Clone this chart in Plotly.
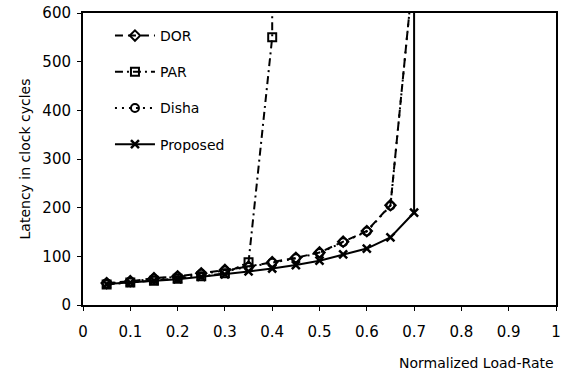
import plotly.graph_objects as go

load = [0.05, 0.1, 0.15, 0.2, 0.25, 0.3, 0.35, 0.4, 0.45, 0.5, 0.55, 0.6, 0.65, 0.7]

dor_x = load
dor_y = [45, 49, 55, 59, 65, 72, 79, 88, 97, 108, 130, 152, 205, 700]

par_x = [0.05, 0.1, 0.15, 0.2, 0.25, 0.3, 0.35, 0.4, 0.4]
par_y = [42, 46, 50, 54, 59, 65, 88, 550, 1000]

disha_x = load
disha_y = [44, 48, 54, 58, 64, 71, 78, 87, 96, 107, 129, 151, 204, 700]

prop_x = load + [0.7]
prop_y = [43, 46, 50, 53, 58, 63, 69, 75, 82, 91, 104, 116, 139, 190, 1000]

x_ticks = [0, 0.1, 0.2, 0.3, 0.4, 0.5, 0.6, 0.7, 0.8, 0.9, 1]
x_tick_text = ["0", "0.1", "0.2", "0.3", "0.4", "0.5", "0.6", "0.7", "0.8", "0.9", "1"]
y_ticks = [0, 100, 200, 300, 400, 500, 600]

FONT = "DejaVu Sans"

fig = go.Figure()
fig.add_trace(go.Scatter(x=dor_x, y=dor_y, name="DOR", mode="lines+markers",
                         line=dict(color="black", width=2, dash="8px,5px"),
                         marker=dict(symbol="diamond-open", size=8, color="black", line=dict(width=2)),
                         legendgroup="a"))
fig.add_trace(go.Scatter(x=par_x, y=par_y, name="PAR", mode="lines+markers",
                         line=dict(color="black", width=2, dash="8px,4px,2px,4px"),
                         marker=dict(symbol="square-open", size=8, color="black", line=dict(width=2)),
                         legendgroup="b"))
fig.add_trace(go.Scatter(x=disha_x, y=disha_y, name="Disha", mode="lines+markers",
                         line=dict(color="black", width=2, dash="2px,5px"),
                         marker=dict(symbol="circle-open", size=8, color="black", line=dict(width=2)),
                         legendgroup="c"))
fig.add_trace(go.Scatter(x=prop_x, y=prop_y, name="Proposed", mode="lines+markers",
                         line=dict(color="black", width=2),
                         marker=dict(symbol="x-thin-open", size=8, color="black", line=dict(width=2.5, color="black")),
                         legendgroup="d"))

fig.update_layout(
    width=568, height=384,
    margin=dict(l=83, r=12, t=13, b=79),
    paper_bgcolor="white", plot_bgcolor="white",
    font=dict(family=FONT, size=14, color="black"),
    showlegend=True,
    legend=dict(x=0.057, y=0.976, xanchor="left", yanchor="top",
                bgcolor="rgba(0,0,0,0)", font=dict(size=14, family=FONT),
                tracegroupgap=15, itemwidth=40),
)
fig.update_xaxes(range=[0, 1], tickvals=x_ticks, ticktext=x_tick_text, automargin=False,
                 showgrid=False, zeroline=False, showline=True, linecolor="black", linewidth=2,
                 mirror=True, ticks="outside", ticklen=4, tickwidth=1, tickcolor="black",
                 ticklabelstandoff=8,
                 tickfont=dict(size=15, family=FONT))
fig.update_yaxes(range=[0, 600], tickvals=y_ticks, automargin=False,
                 showgrid=False, zeroline=False, showline=True, linecolor="black", linewidth=2,
                 mirror=True, ticks="outside", ticklen=4, tickwidth=1, tickcolor="black",
                 ticklabelstandoff=3,
                 tickfont=dict(size=15, family=FONT),
                 title=dict(text="Latency in clock cycles", font=dict(size=14, family=FONT), standoff=8))
fig.add_annotation(text="Normalized Load-Rate", xref="paper", yref="paper",
                   x=1.0, y=-0.2, xanchor="right", yanchor="middle", showarrow=False,
                   font=dict(size=14, family=FONT))

fig.write_html("out.html", config={"displayModeBar": False})

with open("out.html", "r", encoding="utf-8") as f:
    html = f.read()
html = html.replace("<body>", '<body style="margin:0;padding:0;">', 1)
with open("out.html", "w", encoding="utf-8") as f:
    f.write(html)
